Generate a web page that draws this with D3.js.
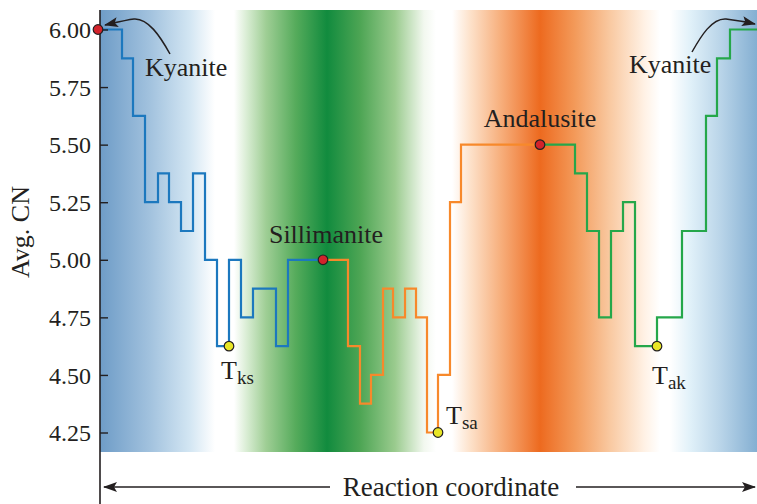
<!DOCTYPE html>
<html>
<head>
<meta charset="utf-8">
<script src="https://cdn.jsdelivr.net/npm/d3@7"></script>
<style>
  html, body { margin: 0; padding: 0; background: #fff; }
  svg { display: block; }
  text { font-family: "Liberation Serif", "DejaVu Serif", serif; fill: #231f20; }
</style>
</head>
<body>
<svg id="chart" width="757" height="504"></svg>
<script>
// ---------- data ----------
const yTicks = [4.25, 4.50, 4.75, 5.00, 5.25, 5.50, 5.75, 6.00];

// step series: [reaction coordinate, avg CN] (value held until next point)
const kyaniteToSillimanite = [
  [0, 6.00], [22, 5.875], [33, 5.625], [45, 5.25], [58, 5.375], [69, 5.25],
  [81, 5.125], [93, 5.375], [105, 5.00], [117, 4.625], [129, 5.00], [141, 4.75],
  [153, 4.875], [176, 4.625], [188, 5.00], [223, 5.00]
];
const sillimaniteToAndalusite = [
  [223, 5.00], [248, 4.625], [260, 4.375], [271, 4.50], [283, 4.875], [293, 4.75],
  [305, 4.875], [316, 4.75], [327, 4.25], [338, 4.50], [350, 5.25], [361, 5.50],
  [440, 5.50]
];
const andalusiteToKyanite = [
  [440, 5.50], [475, 5.375], [487, 5.125], [499, 4.75], [511, 5.125], [523, 5.25],
  [535, 4.625], [557, 4.75], [582, 5.125], [606, 5.625], [617, 5.875], [630, 6.00],
  [657, 6.00]
];

const phaseNames = ["Kyanite", "Sillimanite", "Andalusite", "Kyanite"];
const phasePoints = [[-2, 6.00], [223, 5.00], [440, 5.50]];
const transitionNames = [["T", "ks"], ["T", "sa"], ["T", "ak"]];
const transitionPoints = [[129, 4.625], [338, 4.25], [557, 4.625]];

// ---------- layout ----------
const svg = d3.select("#chart");
const x = d3.scaleLinear().domain([0, 657]).range([100, 757]);
const y = d3.scaleLinear().domain([4.25, 6.00]).range([432.5, 29.5]);
const ink = "#231f20";

// background gradient
const defs = svg.append("defs");
const grad = defs.append("linearGradient").attr("id", "bg")
  .attr("gradientUnits", "userSpaceOnUse")
  .attr("x1", 100).attr("x2", 757).attr("y1", 0).attr("y2", 0);
const stops = [
  [100, "#6e9cc7"], [150, "#a2c2de"], [190, "#d3e6f3"], [215, "#ffffff"],
  [234, "#ffffff"], [246, "#dbeed6"], [266, "#9fce95"], [296, "#55ab5b"],
  [327, "#118b3e"], [360, "#4da554"], [395, "#9acb8e"], [424, "#f2f8ef"],
  [436, "#ffffff"], [452, "#ffffff"], [470, "#fde2cb"], [500, "#f7b07e"],
  [540, "#ed6a1f"], [575, "#f39a5a"], [610, "#f9c9a1"], [645, "#fff2e6"],
  [660, "#ffffff"], [670, "#ffffff"], [690, "#e1f1f9"], [720, "#bad5e9"],
  [757, "#84afd2"]
];
grad.selectAll("stop").data(stops).enter().append("stop")
  .attr("offset", d => (d[0] - 100) / 657)
  .attr("stop-color", d => d[1]);
svg.append("rect").attr("x", 100).attr("y", 10).attr("width", 657).attr("height", 442)
  .attr("fill", "url(#bg)");

// arrow markers
defs.append("marker").attr("id", "head").attr("viewBox", "0 0 14 10")
  .attr("refX", 13).attr("refY", 5).attr("markerWidth", 14).attr("markerHeight", 10)
  .attr("markerUnits", "userSpaceOnUse").attr("orient", "auto")
  .append("path").attr("d", "M0,0 L14,5 L0,10 L3,5 Z").attr("fill", ink);

// step lines
const line = d3.line().x(d => x(d[0])).y(d => y(d[1])).curve(d3.curveStepAfter);
const series = [
  [kyaniteToSillimanite, "#1c78be"],
  [sillimaniteToAndalusite, "#f7892b"],
  [andalusiteToKyanite, "#25a74a"]
];
svg.selectAll("path.series").data(series).enter().append("path")
  .attr("class", "series")
  .attr("d", d => line(d[0]))
  .attr("fill", "none").attr("stroke", d => d[1]).attr("stroke-width", 2.2)
  .attr("stroke-linejoin", "miter");

// y axis
const yAxis = d3.axisRight(y).tickValues(yTicks).tickSize(8).tickFormat(d3.format(".2f"));
const ag = svg.append("g").attr("transform", "translate(100,0)").call(yAxis);
ag.select(".domain").remove();
ag.selectAll(".tick line").attr("stroke", ink).attr("stroke-width", 1.4);
ag.selectAll(".tick text").attr("x", -9).attr("text-anchor", "end")
  .attr("dy", "0.34em").style("font-size", "24px")
  .style("font-family", "'Liberation Serif', serif").attr("fill", ink);
svg.append("line").attr("x1", 100).attr("x2", 100).attr("y1", 10).attr("y2", 504)
  .attr("stroke", ink).attr("stroke-width", 1.6);

svg.append("text").attr("transform", "translate(29,232) rotate(-90)")
  .attr("text-anchor", "middle").style("font-size", "26px").text("Avg. CN");

// x axis title with arrows
svg.append("text").attr("x", 451).attr("y", 496).attr("text-anchor", "middle")
  .style("font-size", "27px").text("Reaction coordinate");
svg.append("line").attr("x1", 330).attr("x2", 104).attr("y1", 487).attr("y2", 487)
  .attr("stroke", ink).attr("stroke-width", 1.4).attr("marker-end", "url(#head)");
svg.append("line").attr("x1", 576).attr("x2", 755).attr("y1", 487).attr("y2", 487)
  .attr("stroke", ink).attr("stroke-width", 1.4).attr("marker-end", "url(#head)");

// curved pointer arrows for kyanite
svg.append("path").attr("d", "M170,54 C160,36 148,18 134,19 C126,20 118,22 105,25")
  .attr("fill", "none").attr("stroke", ink).attr("stroke-width", 1.5)
  .attr("marker-end", "url(#head)");
svg.append("path").attr("d", "M692,52 C701,36 712,18 726,19 C734,20 742,21 755,24")
  .attr("fill", "none").attr("stroke", ink).attr("stroke-width", 1.5)
  .attr("marker-end", "url(#head)");

// phase dots
svg.selectAll("circle.phase").data(phasePoints).enter().append("circle")
  .attr("class", "phase")
  .attr("cx", d => x(d[0])).attr("cy", d => y(d[1])).attr("r", 4.8)
  .attr("fill", "#d3232b").attr("stroke", ink).attr("stroke-width", 1.2);
svg.selectAll("circle.trans").data(transitionPoints).enter().append("circle")
  .attr("class", "trans")
  .attr("cx", d => x(d[0])).attr("cy", d => y(d[1])).attr("r", 4.8)
  .attr("fill", "#e8e626").attr("stroke", ink).attr("stroke-width", 1.2);

// phase labels
const lab = (t, px, py, anchor) => svg.append("text").attr("x", px).attr("y", py)
  .attr("text-anchor", anchor).style("font-size", "26px").text(t);
lab(phaseNames[0], x(phasePoints[0][0]) + 47, y(phasePoints[0][1]) + 46, "start");
lab(phaseNames[1], x(phasePoints[1][0]) + 3, y(phasePoints[1][1]) - 17, "middle");
lab(phaseNames[2], x(phasePoints[2][0]), y(phasePoints[2][1]) - 18, "middle");
lab(phaseNames[3], 629, y(6.00) + 43, "start");

// transition labels
const tOff = [[-8, 33], [8, -9], [-5, 38]];
transitionNames.forEach((nm, i) => {
  const p = transitionPoints[i];
  const t = svg.append("text").attr("x", x(p[0]) + tOff[i][0]).attr("y", y(p[1]) + tOff[i][1])
    .style("font-size", "26px");
  t.append("tspan").text(nm[0]);
  t.append("tspan").attr("dy", 5).style("font-size", "19px").text(nm[1]);
});
</script>
</body>
</html>
